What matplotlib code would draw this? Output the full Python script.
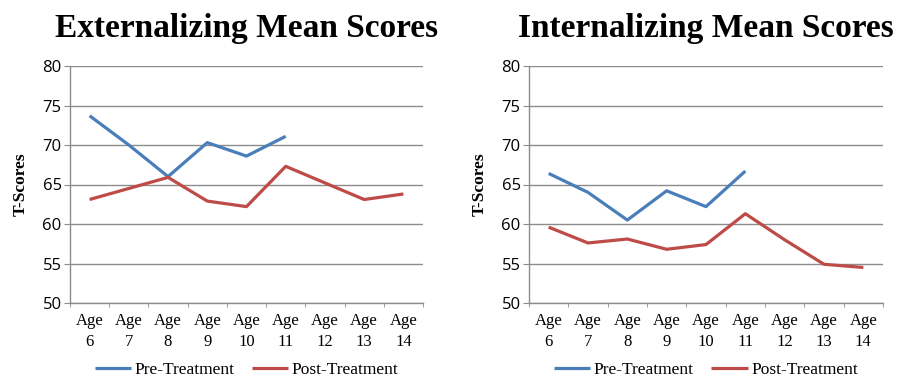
import matplotlib
matplotlib.use("Agg")
import matplotlib.pyplot as plt
import numpy as np

ages = ["6", "7", "8", "9", "10", "11", "12", "13", "14"]
tick_labels = ["Age\n" + a for a in ages]

ext_pre = [73.7, 70.0, 66.0, 70.3, 68.6, 71.1]
ext_post = [63.1, 64.5, 65.9, 62.9, 62.2, 67.3, 65.2, 63.1, 63.8]
int_pre = [66.4, 64.0, 60.5, 64.2, 62.2, 66.7]
int_post = [59.6, 57.6, 58.1, 56.8, 57.4, 61.3, 58.0, 54.9, 54.5]

titles = ["Externalizing Mean Scores", "Internalizing Mean Scores"]
yticks = [50, 55, 60, 65, 70, 75, 80]

BLUE = "#4A7EBB"
RED = "#BE4B48"
GRID = "#8C8C8C"

fig = plt.figure(figsize=(8.98, 3.81), dpi=100)
W, H = 898, 381
axes_px = [(70, 66, 423, 303), (529, 66, 883, 303)]
data = [(ext_pre, ext_post), (int_pre, int_post)]

for i, ((x0, y0, x1, y1), (pre, post), title) in enumerate(zip(axes_px, data, titles)):
    ax = fig.add_axes([x0 / W, 1 - y1 / H, (x1 - x0) / W, (y1 - y0) / H])
    xs_pre = np.arange(len(pre))
    xs_post = np.arange(len(post))
    lp, = ax.plot(xs_pre, pre, color=BLUE, lw=2.3, solid_capstyle="butt", label="Pre-Treatment")
    lq, = ax.plot(xs_post, post, color=RED, lw=2.3, solid_capstyle="butt", label="Post-Treatment")
    ax.set_xlim(-0.5, len(ages) - 0.5)
    ax.set_ylim(50, 80)
    ax.set_yticks(yticks)
    ax.set_yticklabels([str(v) for v in yticks], fontsize=12, family="Open Sans")
    ax.yaxis.grid(True, color=GRID, lw=1.0)
    ax.set_axisbelow(True)
    ax.set_xticks(np.arange(len(ages)))
    ax.set_xticklabels(tick_labels, fontsize=12, family="Liberation Serif", linespacing=1.45)
    ax.set_xticks(np.arange(len(ages) + 1) - 0.5, minor=True)
    ax.tick_params(axis="x", which="major", length=0, pad=7)
    ax.tick_params(axis="x", which="minor", length=3, color=GRID, direction="out")
    ax.tick_params(axis="y", length=4.5, color=GRID, direction="out", pad=1.5)
    for s in ["top", "right"]:
        ax.spines[s].set_visible(False)
    for s in ["left", "bottom"]:
        ax.spines[s].set_color(GRID)
        ax.spines[s].set_linewidth(1.0)
    ax.set_ylabel("T-Scores", family="Liberation Serif", fontweight="bold", fontsize=12.5, labelpad=10)
    ax.set_title(title, family="Liberation Serif", fontweight="bold", fontsize=24, pad=21)
    ax.legend(handles=[lp, lq], loc="center", bbox_to_anchor=(0.5, -0.283), ncol=2,
              frameon=False, prop={"family": "Liberation Serif", "size": 12.5},
              handlelength=2.1, handletextpad=0.2, columnspacing=1.0, borderpad=0.2)

fig.savefig("out.png", dpi=100)
